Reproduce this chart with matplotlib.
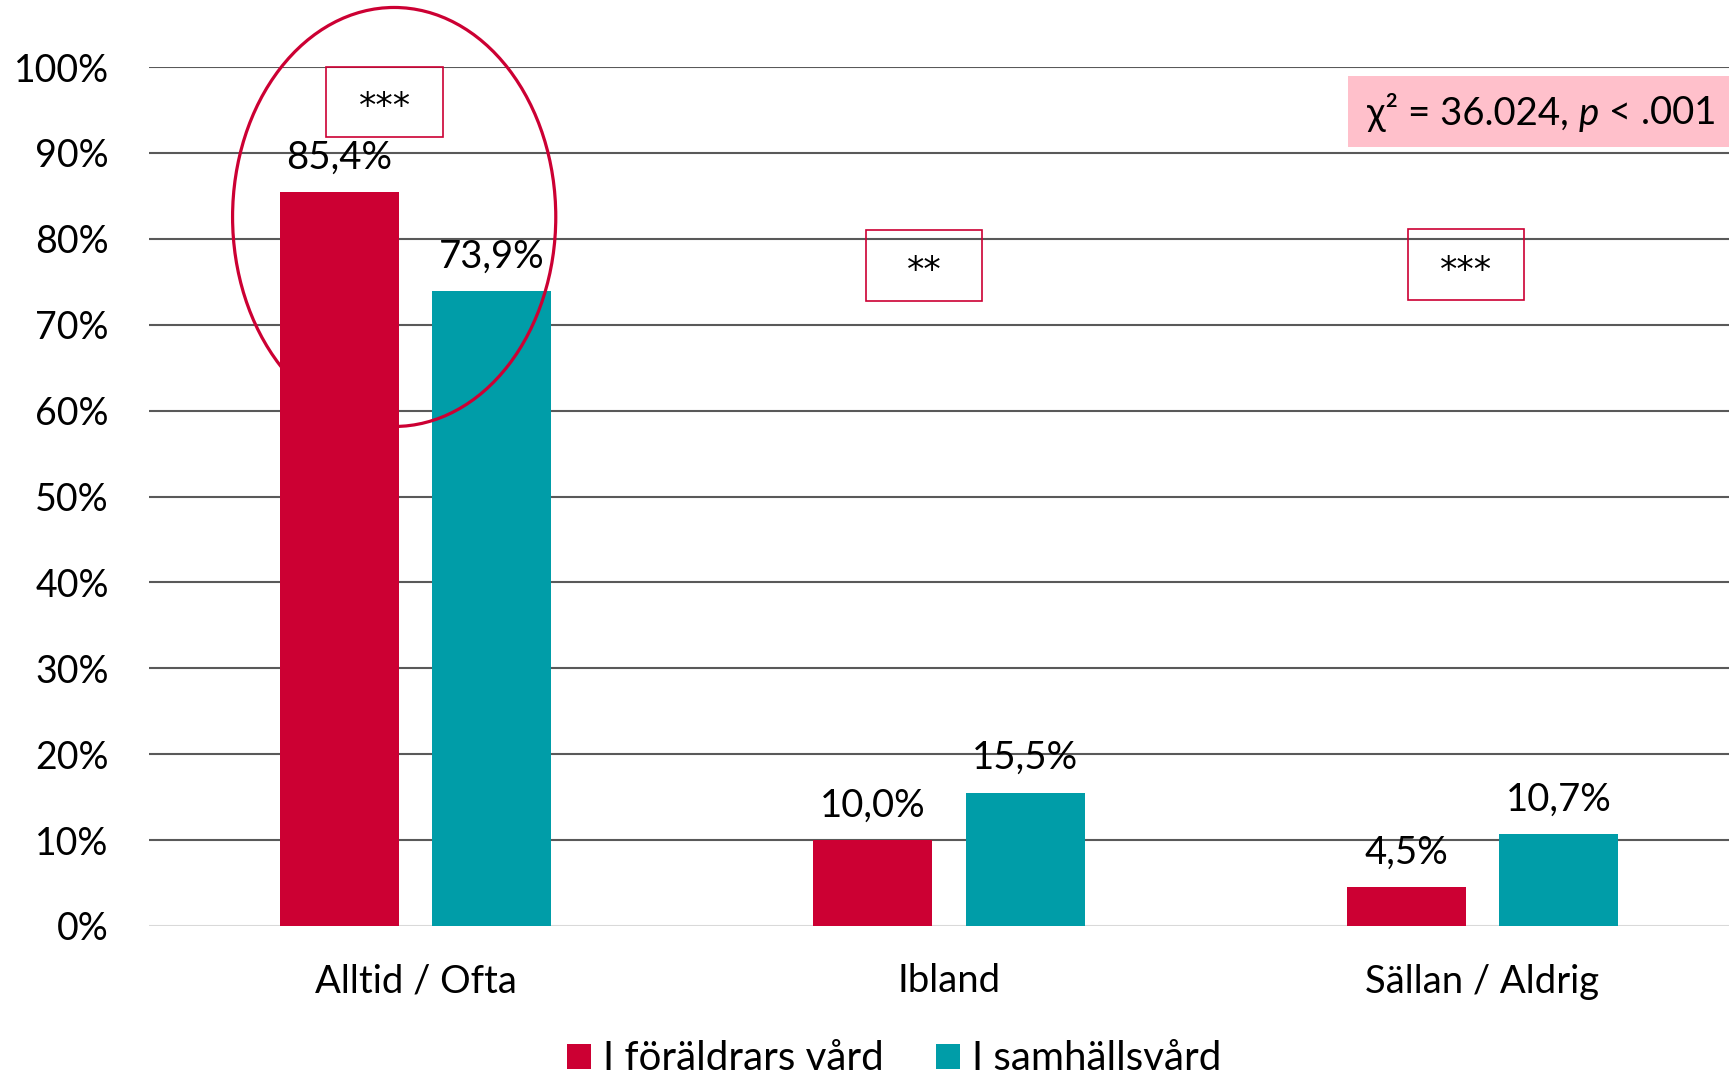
import matplotlib
matplotlib.use("Agg")
import matplotlib.pyplot as plt
import numpy as np
from matplotlib.patches import Ellipse, Rectangle
from matplotlib.offsetbox import TextArea, HPacker, AnnotationBbox

categories = ["Alltid / Ofta", "Ibland", "Sällan / Aldrig"]
series_names = ["I föräldrars vård", "I samhällsvård"]
foraldrar = [85.4, 10.0, 4.5]
samhall = [73.9, 15.5, 10.7]
significance = ["***", "**", "***"]
yticks = [0, 10, 20, 30, 40, 50, 60, 70, 80, 90, 100]
chi_parts = ["χ² = 36.024, ", "p", " < .001"]

RED = "#CC0033"
TEAL = "#009DA8"
FONT = ["Lato", "DejaVu Sans"]
plt.rcParams["font.family"] = FONT
FS = 27.5

W, H = 1729, 1078
fig = plt.figure(figsize=(W / 100, H / 100), dpi=100)
ax = fig.add_axes([149 / W, 1 - 926 / H, 1600 / W, (926 - 67) / H])

x = np.arange(len(categories))
bw = 0.2234
off = 0.1427
b1 = ax.bar(x - off, foraldrar, bw, color=RED, zorder=2, label=series_names[0])
b2 = ax.bar(x + off, samhall, bw, color=TEAL, zorder=2, label=series_names[1])

for bars, vals in ((b1, foraldrar), (b2, samhall)):
    for rect, v in zip(bars, vals):
        ax.annotate(f"{v:.1f}%".replace(".", ","),
                    (rect.get_x() + rect.get_width() / 2, v),
                    xytext=(0, 25), textcoords="offset points",
                    ha="center", va="center", fontsize=FS, color="black")

ax.set_xlim(-0.5, 2.5)
ax.set_ylim(0, 100)
ax.set_yticks(yticks)
ax.set_yticklabels([f"{t}%" for t in yticks], fontsize=27)
ax.set_xticks(x)
ax.set_xticklabels(categories, fontsize=FS)
ax.tick_params(axis="both", length=0)
ax.tick_params(axis="y", pad=29)
ax.tick_params(axis="x", pad=27)
for s in ax.spines.values():
    s.set_visible(False)
ax.yaxis.grid(True, color="#595959", linewidth=1.5, zorder=0)
ax.set_axisbelow(True)
ax.get_ygridlines()[0].set_color("#D9D9D9")

# significance boxes (relative to category centers)
box_specs = [(-0.1675, 0.2192, 91.8, 8.2, 95.3),
             (-0.155, 0.217, 72.8, 8.2, 76.3),
             (-0.1386, 0.2172, 72.9, 8.2, 76.3)]
for i, (dx, w, y0, h, ty) in enumerate(box_specs):
    ax.add_patch(Rectangle((x[i] + dx, y0), w, h, fill=False, edgecolor=RED,
                           linewidth=1.2, zorder=4, clip_on=False))
    ax.text(x[i] + dx + w / 2, ty, significance[i], ha="center", va="center",
            fontsize=25, family="DejaVu Sans", zorder=5)

# ellipse highlight
ax.add_patch(Ellipse((-0.0403, 82.54), 0.606, 48.78, fill=False, edgecolor=RED,
                     linewidth=2.3, zorder=3, clip_on=False))

# chi-square box
fig.patches.append(Rectangle((1348 / W, 1 - 147 / H), (W - 1348) / W, 71 / H,
                             transform=fig.transFigure, facecolor="#FFC0CB",
                             edgecolor="none", zorder=5))
CFS = 27.6
tas = [TextArea(chi_parts[0], textprops=dict(fontsize=CFS, family=FONT)),
       TextArea(chi_parts[1], textprops=dict(fontsize=CFS, family=FONT, style="italic")),
       TextArea(chi_parts[2], textprops=dict(fontsize=CFS, family=FONT))]
pack = HPacker(children=tas, pad=0, sep=0, align="baseline")
ab = AnnotationBbox(pack, (1367, H - 112), xycoords="figure pixels",
                    box_alignment=(0, 0.5), frameon=False, zorder=6)
fig.add_artist(ab)

fig.legend(handles=[b1, b2], labels=series_names, loc="center",
           bbox_to_anchor=(894 / W, 1 - 1059 / H), ncol=2, frameon=False,
           fontsize=29, handlelength=0.6, handleheight=0.6,
           handletextpad=0.3, columnspacing=1.3)

fig.savefig("out.png", dpi=100)
